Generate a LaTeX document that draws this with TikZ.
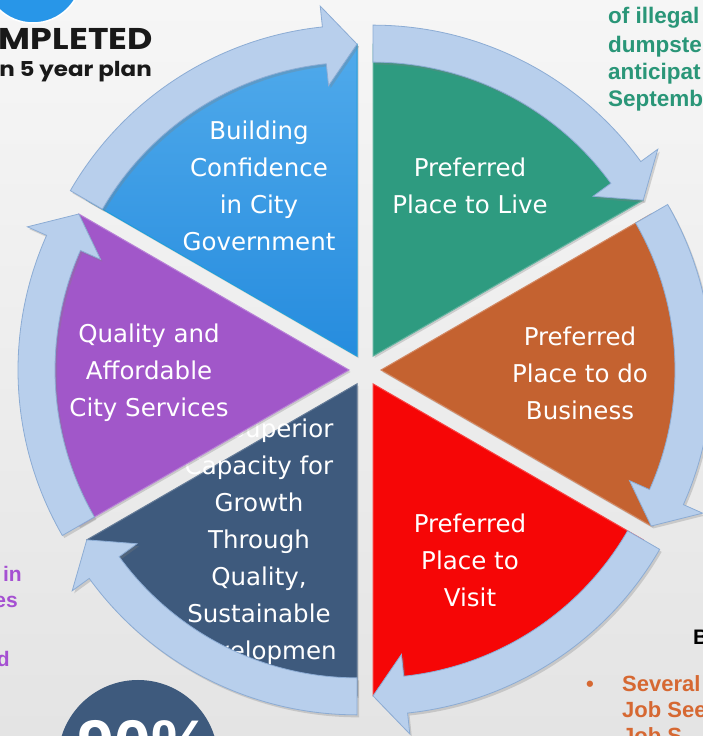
\documentclass[tikz,border=0pt]{standalone}
\usepackage{fontspec}
\newfontfamily\dv{DejaVu Sans}
\newfontfamily\lib{Liberation Sans}
\newfontfamily\pop{Poppins}
\usetikzlibrary{calc,shadows}
\definecolor{bgtop}{RGB}{246,246,246}
\definecolor{bgbot}{RGB}{228,228,228}
\definecolor{sBlue}{RGB}{38,140,222}
\definecolor{sBlueL}{RGB}{80,170,235}
\definecolor{sGreen}{RGB}{46,155,128}
\definecolor{sOrange}{RGB}{196,98,48}
\definecolor{sRed}{RGB}{246,6,6}
\definecolor{sNavy}{RGB}{62,90,125}
\definecolor{sPurple}{RGB}{161,87,201}
\definecolor{bandF}{RGB}{184,207,236}
\definecolor{bandD}{RGB}{140,172,212}
\definecolor{tGreenC}{RGB}{42,150,120}
\definecolor{tPurpleC}{RGB}{165,80,210}
\definecolor{tOrangeC}{RGB}{214,104,50}
\definecolor{circBlue}{RGB}{40,150,232}
\definecolor{circNavy}{RGB}{62,90,125}
\tikzset{
  slice/.style={drop shadow={opacity=0.3, shadow xshift=1.5pt, shadow yshift=-2pt}},
  band/.style={fill=bandF, draw=bandD, line width=0.8pt, line join=miter,
    drop shadow={opacity=0.3, shadow xshift=2pt, shadow yshift=-2.5pt}},
  wtext/.style={text=white, align=center, font=\dv\fontsize{24.5}{37}\selectfont, inner sep=0pt},
  sidetext/.style={font=\lib\bfseries\fontsize{21}{29}\selectfont, inner sep=0pt},
  gtext/.style={font=\lib\bfseries\fontsize{22.5}{29}\selectfont, text=tGreenC, inner sep=0pt},
  otext/.style={font=\lib\bfseries\fontsize{22}{26}\selectfont, text=tOrangeC, inner sep=0pt}
}
\begin{document}
\begin{tikzpicture}[x=1pt,y=1pt]
\useasboundingbox (0,0) rectangle (703,736);
\begin{scope}
\clip (0,0) rectangle (703,736);
\shade[top color=bgtop, bottom color=bgbot] (0,0) rectangle (703,736);

% decorative circles
\fill[circBlue, draw=white, line width=1.5pt] (33,762) circle[radius=49];
\fill[circNavy] (138,-24) circle[radius=80];
\node[anchor=base, text=white, font=\lib\bfseries\fontsize{66}{66}\selectfont, inner sep=0pt] (pct) at (144,-30) {90\%};

% top-left heading
\node[anchor=base east, xscale=1.16, font=\pop\bfseries\fontsize{30}{32}\selectfont, inner sep=0pt, text=black!90] (hd1) at (153,686) {MPLETED};
\node[anchor=base east, xscale=1.12, font=\pop\bfseries\fontsize{20.5}{22}\selectfont, inner sep=0pt, text=black!90] (hd2) at (152,659) {n 5 year plan};

% right top green text
\node[gtext, anchor=base west] (g1) at (608,712) {of illegal};
\node[gtext, anchor=base west] (g2) at (608,683) {dumpste};
\node[gtext, anchor=base west] (g3) at (608,656) {anticipat};
\node[gtext, anchor=base west] (g4) at (608,629) {Septemb};

% left purple text
\node[sidetext, anchor=base east, text=tPurpleC] (p1) at (22,154) {in};
\node[sidetext, anchor=base east, text=tPurpleC] (p2) at (18,128) {es};
\node[sidetext, anchor=base east, text=tPurpleC] (p3) at (10,69) {d};

% bottom right
\node[font=\lib\bfseries\fontsize{21}{24}\selectfont, anchor=base west, inner sep=0pt] (b1) at (693,91) {B};
\node[otext, anchor=base] (bul) at (590,44) {•};
\node[otext, anchor=base west] (o1) at (622,44) {Several};
\node[otext, anchor=base west] (o2) at (622,18) {Job See};
\node[otext, anchor=base west] (o3) at (622,-8) {Job S};

% apexes
\coordinate (AG) at (373,379.86);
\coordinate (AB) at (357,379.86);
\coordinate (AP) at (349,366);
\coordinate (AN) at (357,352.14);
\coordinate (AR) at (373,352.14);
\coordinate (AO) at (381,366);

% navy slice and its text (under purple)
\fill[sNavy, draw=sNavy!80!white, line width=1pt, slice] (AN) -- ++(210:312) arc[start angle=210, end angle=270, radius=312] -- cycle;
\node[wtext] (tNavy) at (259,194.5) {\hspace*{45pt}Superior\\Capacity for\\Growth\\Through\\Quality,\\Sustainable\\Developmen};

\fill[sGreen, draw=sGreen!75!white, line width=1pt, slice] (AG) -- ++(30:312) arc[start angle=30, end angle=90, radius=312] -- cycle;
\fill[sOrange, draw=sOrange!75!white, line width=1pt, slice] (AO) -- ++(-30:312) arc[start angle=-30, end angle=30, radius=312] -- cycle;
\fill[sRed, draw=sRed!75!white, line width=1pt, slice] (AR) -- ++(270:312) arc[start angle=270, end angle=330, radius=312] -- cycle;
\fill[sPurple, draw=sPurple!75!white, line width=1pt, slice] (AP) -- ++(150:312) arc[start angle=150, end angle=210, radius=312] -- cycle;
\shade[top color=sBlueL, bottom color=sBlue, draw=cyan!60!sBlue, line width=1pt, slice] (AB) -- ++(90:312) arc[start angle=90, end angle=150, radius=312] -- cycle;

% slice texts
\node[wtext] (tBlue) at (259,550) {Building\\Confidence\\in City\\Government};
\node[wtext] (tGreen) at (470,550) {Preferred\\Place to Live};
\node[wtext] (tOrange) at (580,363) {Preferred\\Place to do\\Business};
\node[wtext] (tRed) at (470,176) {Preferred\\Place to\\Visit};
\node[wtext] (tPurple) at (149,363) {Quality and\\Affordable\\City Services};

% arrow bands
\foreach \A/\s/\e in {AG/90/30, AO/30/-30, AR/330/270, AN/270/210, AP/210/150, AB/150/90}{
  \pgfmathsetmacro\h{\e+6}
  \path[band] ($(\A)+(\s:331)$) arc[start angle=\s, end angle=\h, radius=331]
    -- ($(\A)+(\h:352)$) -- ($(\A)+(\e:312)$) -- ($(\A)+(\h:272)$)
    -- ($(\A)+(\h:294)$) arc[start angle=\h, end angle=\s, radius=294] -- cycle;
}
\end{scope}
\end{tikzpicture}
\end{document}
